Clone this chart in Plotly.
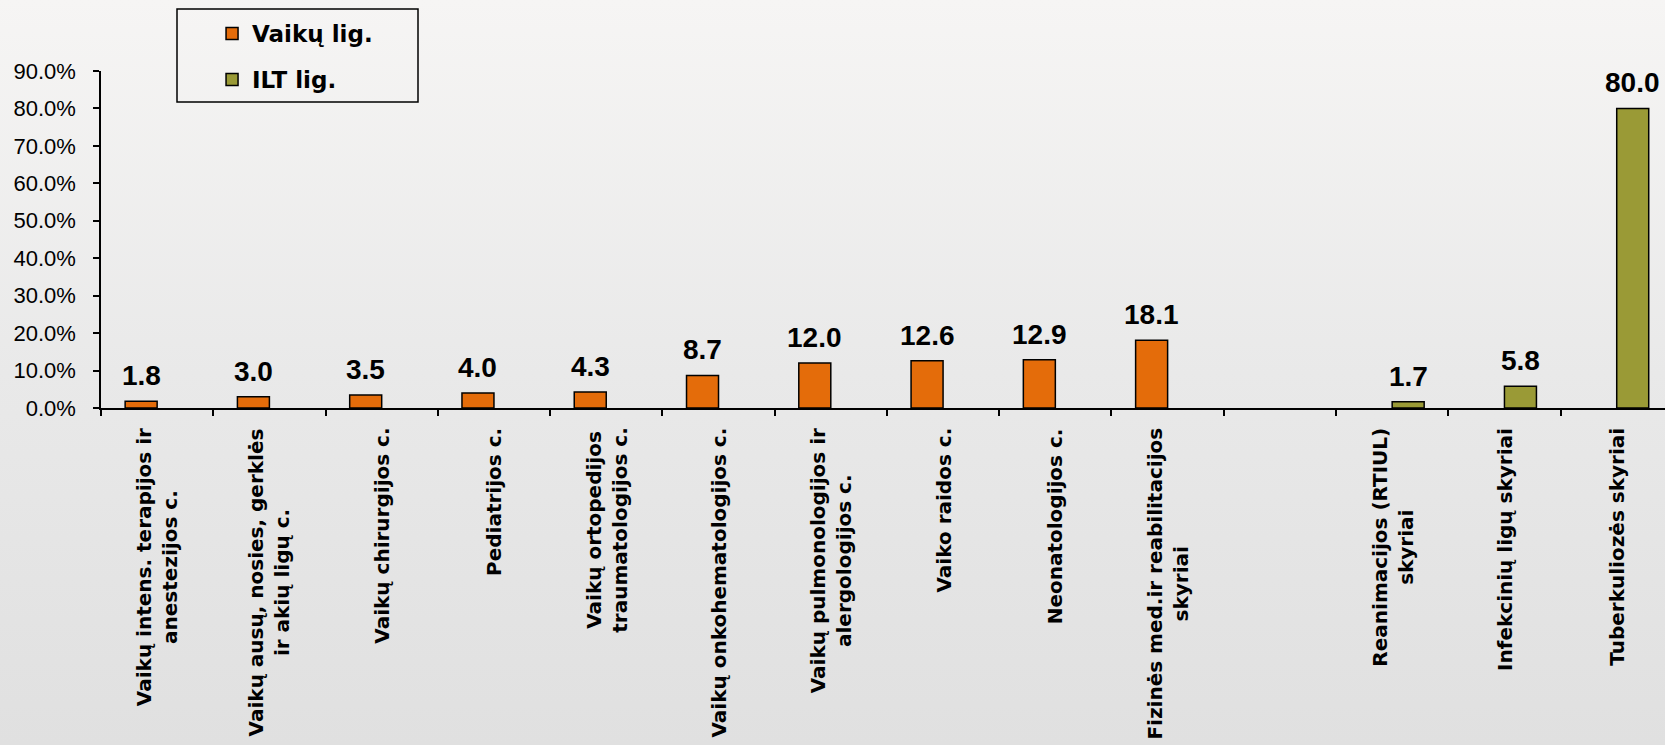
import plotly.graph_objects as go
import base64

# ---- data ----
categories = [
    "Vaikų intens. terapijos ir<br>anestezijos c.",
    "Vaikų ausų, nosies, gerklės<br>ir akių ligų c.",
    "Vaikų chirurgijos c.",
    "Pediatrijos c.",
    "Vaikų ortopedijos<br>traumatologijos c.",
    "Vaikų onkohematologijos c.",
    "Vaikų pulmonologijos ir<br>alergologijos c.",
    "Vaiko raidos c.",
    "Neonatologijos c.",
    "Fizinės med.ir reabilitacijos<br>skyriai",
    " ",
    "Reanimacijos (RTIUL)<br>skyriai",
    "Infekcinių ligų skyriai",
    "Tuberkuliozės skyriai",
]
vaiku_values = [1.8, 3.0, 3.5, 4.0, 4.3, 8.7, 12.0, 12.6, 12.9, 18.1, None, None, None, None]
ilt_values = [None, None, None, None, None, None, None, None, None, None, None, 1.7, 5.8, 80.0]
series_names = ["Vaikų lig.", "ILT lig."]
y_ticks = [0, 10, 20, 30, 40, 50, 60, 70, 80, 90]
y_tick_labels = [f"{v:.1f}%" for v in y_ticks]

ORANGE = "#E46C0A"
OLIVE = "#9A9A36"

fig = go.Figure()
fig.add_trace(go.Bar(
    x=categories, y=vaiku_values, name=series_names[0], legendgroup="a",
    marker=dict(color=ORANGE, line=dict(color="black", width=1.5)),
))
fig.add_trace(go.Bar(
    x=categories, y=ilt_values, name=series_names[1], legendgroup="b",
    marker=dict(color=OLIVE, line=dict(color="black", width=1.5)),
))

annotations = []
# value labels
for vals, shift in ((vaiku_values, -16), (ilt_values, 16)):
    for c, v in zip(categories, vals):
        if v is None:
            continue
        annotations.append(dict(
            x=c, y=v, xref="x", yref="y", text=f"{v:.1f}", showarrow=False,
            xanchor="center", yanchor="bottom", xshift=shift, yshift=8,
            font=dict(family="Liberation Sans, Arial", size=28, color="black", weight="bold"),
        ))
# category labels (rotated, centred lines)
for c in categories:
    if not c.strip():
        continue
    annotations.append(dict(
        x=c, y=0, xref="x", yref="y", text=c, showarrow=False,
        textangle=-90, align="center", xanchor="center", yanchor="top", yshift=-18,
        font=dict(family="DejaVu Sans", size=20, color="black", weight="bold"),
    ))

svg = ('<svg xmlns="http://www.w3.org/2000/svg" width="1665" height="745">'
       '<defs><linearGradient id="g" x1="0" y1="0" x2="0" y2="1">'
       '<stop offset="0" stop-color="#F6F5F4"/><stop offset="0.5" stop-color="#E9E9E9"/>'
       '<stop offset="1" stop-color="#E0E0E0"/></linearGradient></defs>'
       '<rect width="1665" height="745" fill="url(#g)"/></svg>')
bg_uri = "data:image/svg+xml;base64," + base64.b64encode(svg.encode()).decode()

fig.update_layout(
    width=1665, height=745,
    margin=dict(l=101, r=0, t=71, b=337),
    paper_bgcolor="#ECECEC", plot_bgcolor="rgba(0,0,0,0)",
    barmode="group", bargap=0.43, bargroupgap=0,
    showlegend=True,
    legend=dict(
        x=0.071, y=1.175, xanchor="left", yanchor="top",
        bgcolor="rgba(0,0,0,0)", borderwidth=0,
        font=dict(family="DejaVu Sans", size=23, color="black", weight="bold"),
        tracegroupgap=13, traceorder="grouped",
    ),
    xaxis=dict(
        type="category", range=[-0.5, 13.43], showticklabels=False,
        tickson="boundaries", ticks="outside", ticklen=6, tickcolor="black", tickwidth=1.5,
        showline=True, linecolor="black", linewidth=1.5, showgrid=False, zeroline=False,
        automargin=False,
    ),
    yaxis=dict(
        range=[0, 90], tickvals=y_ticks, ticktext=y_tick_labels,
        ticks="outside", ticklen=6, tickcolor="black", tickwidth=1.5,
        ticklabelstandoff=13,
        tickfont=dict(family="Liberation Sans, Arial", size=22, color="black"),
        showline=True, linecolor="black", linewidth=1.5, showgrid=False, zeroline=False,
        automargin=False,
    ),
    annotations=annotations,
    shapes=[dict(type="rect", xref="paper", yref="paper",
                 x0=(177 - 101) / 1564, x1=(418 - 101) / 1564,
                 y0=(408 - 102) / 337, y1=(408 - 9) / 337,
                 line=dict(color="black", width=1.5), fillcolor="rgba(0,0,0,0)")],
    images=[dict(source=bg_uri, xref="paper", yref="paper",
                 x=-101 / 1564, y=(408) / 337, sizex=1665 / 1564, sizey=745 / 337,
                 xanchor="left", yanchor="top", sizing="stretch", layer="below")],
)

fig.write_html("out.html", config={"displayModeBar": False},
               post_script="document.body.style.margin='0';")
